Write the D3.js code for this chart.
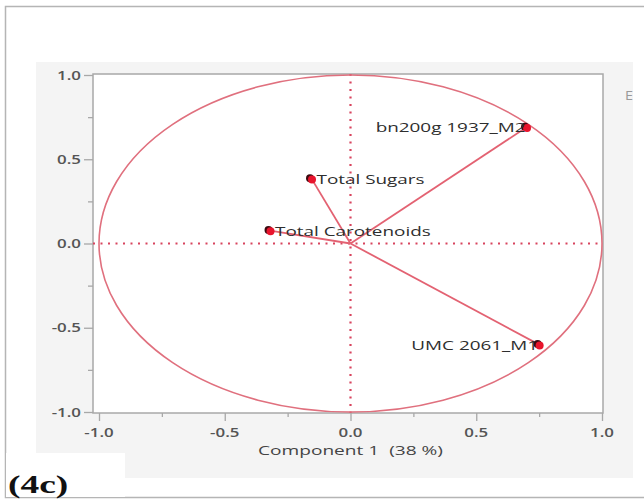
<!DOCTYPE html>
<html>
<head>
<meta charset="utf-8">
<script src="https://cdn.jsdelivr.net/npm/d3@7"></script>
<style>
  html, body { margin: 0; padding: 0; background: #fff; }
  svg { display: block; }
  text { white-space: pre; }
</style>
</head>
<body>
<svg id="chart" width="644" height="500"></svg>
<script>
// Loading variables on the first two principal components
const variables = ["bn200g 1937_M2", "Total Sugars", "Total Carotenoids", "UMC 2061_M1"];
const comp1 = [0.70, -0.155, -0.32, 0.75];
const comp2 = [0.69, 0.385, 0.077, -0.60];
const labelSide = ["left", "right", "right", "left"];

const majorTicks = [-1.0, -0.5, 0.0, 0.5, 1.0];
const minorTicks = [-0.75, -0.25, 0.25, 0.75];
const xTitle = "Component 1  (38 %)";
const panelTag = "(4c)";

const svg = d3.select("#chart");
const font = "'Open Sans', 'Noto Sans', sans-serif";

// text drawn with a horizontal stretch (the exported figure is wider than tall)
function wideText(parent, px, py, str, sx, anchor) {
  return parent.append("text")
    .attr("transform", `translate(${px},${py}) scale(${sx},1)`)
    .attr("text-anchor", anchor || "start")
    .text(str);
}

// outer figure border
svg.append("path")
  .attr("d", "M644,6.5 H5.5 V497.5 H644")
  .attr("fill", "none").attr("stroke", "#b5b5b5").attr("stroke-width", 1.5);

// grey report panel
svg.append("rect")
  .attr("x", 36).attr("y", 62).attr("width", 597).attr("height", 416)
  .attr("fill", "#f4f4f4");

wideText(svg, 625, 100, "E", 1.2)
  .attr("font-family", font).attr("font-size", 12).attr("fill", "#999");

// plot frame
const frame = { left: 93, top: 74, right: 603, bottom: 413 };
svg.append("rect")
  .attr("x", frame.left).attr("y", frame.top)
  .attr("width", frame.right - frame.left).attr("height", frame.bottom - frame.top)
  .attr("fill", "#fff");

const x = d3.scaleLinear().domain([-1, 1]).range([99, 602]);
const y = d3.scaleLinear().domain([-1, 1]).range([412, 75]);

// one decimal, plain hyphen for negatives
const fmt = v => d3.format(".1f")(v).replace("\u2212", "-");

// axes: tick marks from d3, labels placed separately
function styleAxis(g) {
  g.select(".domain").remove();
  g.selectAll("line").attr("stroke", "#a8a8a8").attr("stroke-width", 1.3);
}

svg.append("g").attr("transform", `translate(${frame.left},0)`)
  .call(d3.axisLeft(y).tickValues(majorTicks).tickSize(9).tickFormat(""))
  .call(styleAxis);
svg.append("g").attr("transform", `translate(${frame.left},0)`)
  .call(d3.axisLeft(y).tickValues(minorTicks).tickSize(5).tickFormat(""))
  .call(styleAxis);
svg.append("g").attr("transform", `translate(0,${frame.bottom})`)
  .call(d3.axisBottom(x).tickValues(majorTicks).tickSize(8).tickFormat(""))
  .call(styleAxis);
svg.append("g").attr("transform", `translate(0,${frame.bottom})`)
  .call(d3.axisBottom(x).tickValues(minorTicks).tickSize(4).tickFormat(""))
  .call(styleAxis);

const tickLabels = svg.append("g")
  .attr("font-family", font).attr("font-size", 12.5)
  .attr("font-weight", 600).attr("fill", "#555");
majorTicks.forEach(v => {
  wideText(tickLabels, frame.left - 12, y(v) + 4.5, fmt(v), 1.35, "end");
  wideText(tickLabels, x(v), frame.bottom + 24, fmt(v), 1.35, "middle");
});

// frame outline
svg.append("rect")
  .attr("x", frame.left).attr("y", frame.top)
  .attr("width", frame.right - frame.left).attr("height", frame.bottom - frame.top)
  .attr("fill", "none").attr("stroke", "#a8a8a8").attr("stroke-width", 1.5);

// axis title
wideText(svg, x(0), 455, xTitle, 1.47, "middle")
  .attr("font-family", font).attr("font-size", 13).attr("fill", "#444");

const plot = svg.append("g");

// dotted zero reference lines
plot.append("line")
  .attr("x1", frame.left).attr("x2", frame.right)
  .attr("y1", y(0)).attr("y2", y(0))
  .attr("stroke", "#d8445e").attr("stroke-width", 2.2)
  .attr("stroke-dasharray", "2,5.5");
plot.append("line")
  .attr("x1", x(0)).attr("x2", x(0))
  .attr("y1", frame.top).attr("y2", frame.bottom)
  .attr("stroke", "#d8445e").attr("stroke-width", 2.2)
  .attr("stroke-dasharray", "2,5.5");

// unit correlation circle
plot.append("ellipse")
  .attr("cx", x(0)).attr("cy", y(0))
  .attr("rx", x(1) - x(0)).attr("ry", y(0) - y(1))
  .attr("fill", "none").attr("stroke", "#e0707e").attr("stroke-width", 1.6);

const data = variables.map((name, i) => ({ name, c1: comp1[i], c2: comp2[i], side: labelSide[i] }));

// loading vectors from the origin
plot.selectAll("line.vec").data(data).enter().append("line")
  .attr("class", "vec")
  .attr("x1", x(0)).attr("y1", y(0))
  .attr("x2", d => x(d.c1)).attr("y2", d => y(d.c2))
  .attr("stroke", "#e36272").attr("stroke-width", 1.8);

// markers: dark shadow under a red dot
plot.selectAll("circle.shadow").data(data).enter().append("circle")
  .attr("class", "shadow")
  .attr("cx", d => x(d.c1) - 1.5).attr("cy", d => y(d.c2) - 0.5).attr("r", 4)
  .attr("fill", "#3a0a10");
plot.selectAll("circle.dot").data(data).enter().append("circle")
  .attr("class", "dot")
  .attr("cx", d => x(d.c1) + 0.5).attr("cy", d => y(d.c2) + 0.8).attr("r", 4)
  .attr("fill", "#e8142c");

// variable labels
const labels = plot.append("g")
  .attr("font-family", font).attr("font-size", 13.5).attr("fill", "#2e2e2e");
data.forEach(d => {
  const left = d.side === "left";
  wideText(labels, left ? x(d.c1) - 1 : x(d.c1) + 5, y(d.c2) + 5, d.name, 1.4, left ? "end" : "start");
});

// panel tag
svg.append("rect")
  .attr("x", 6).attr("y", 453).attr("width", 119).attr("height", 44)
  .attr("fill", "#fff");
wideText(svg, 8, 493, panelTag, 1.5)
  .attr("font-family", "'Liberation Serif', 'Times New Roman', serif")
  .attr("font-size", 25).attr("font-weight", "bold").attr("fill", "#111");
</script>
</body>
</html>
